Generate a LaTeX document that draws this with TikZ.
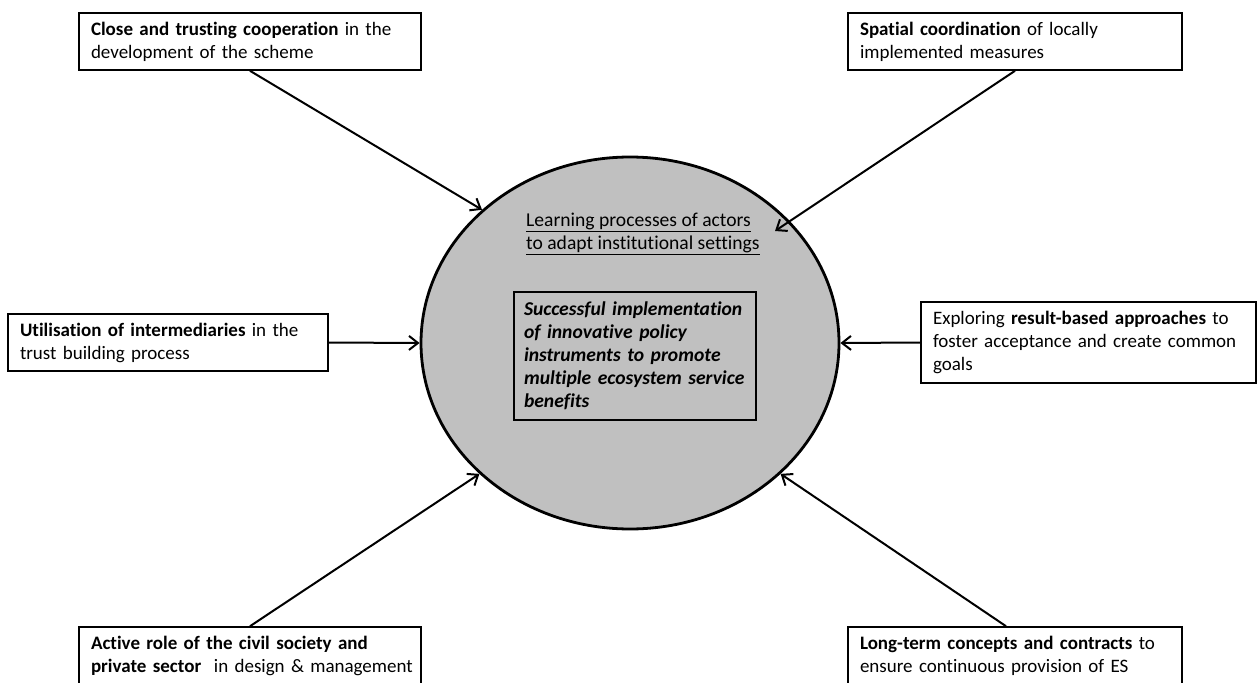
\documentclass[tikz,border=0pt]{standalone}
\usepackage{fontspec}
\setmainfont{Carlito}[Ligatures={NoCommon,NoRare}]
\usetikzlibrary{shapes.geometric,arrows.meta}
\hyphenpenalty=10000
\exhyphenpenalty=10000
\definecolor{ellgray}{RGB}{192,192,192}
\tikzset{
  box/.style={draw, line width=1.6pt, rectangle, inner xsep=12pt, inner ysep=0pt, align=left, font=\fontsize{19}{23}\selectfont},
  conn/.style={line width=2pt, -{Straight Barb[length=9pt,width=14pt,line width=2pt]}},
}
\begin{document}
\begin{tikzpicture}[x=1pt,y=-1pt]
\useasboundingbox (0,0) rectangle (1257,682);
\fill[white] (0,0) rectangle (1257,682);
\begin{scope}
\clip (0,0) rectangle (1257,682);
\node[ellipse, draw, line width=2.8pt, fill=ellgray, minimum width=418pt, minimum height=372pt] (c) at (630,343) {};
\node[box, minimum width=342pt, minimum height=57pt, text width=318pt] (tl) at (250,41.5) {\textbf{Close and trusting cooperation} in the\\development of the scheme};
\node[box, minimum width=334pt, minimum height=57pt, text width=310pt] (tr) at (1015,41.5) {\textbf{Spatial coordination} of locally\\implemented measures};
\node[box, minimum width=320pt, minimum height=57pt, text width=296pt] (ml) at (168,342.5) {\textbf{Utilisation of intermediaries} in the\\trust building process};
\node[box, minimum width=335pt, minimum height=81pt, text width=311pt] (mr) at (1088.5,342.5) {Exploring \textbf{result-based approaches} to\\foster acceptance and create common\\goals};
\node[box, minimum width=342pt, minimum height=57pt, text width=318pt] (bl) at (250,655.5) {\textbf{Active role of the civil society and}\\\mbox{\textbf{private sector}\ \ in design \& management}};
\node[box, minimum width=334pt, minimum height=57pt, text width=310pt] (br) at (1015,655.5) {\textbf{Long-term concepts and contracts} to\\ensure continuous provision of ES};
\node[anchor=north west, inner sep=0pt, align=left, font=\fontsize{19.6}{22.5}\selectfont] (learn) at (526,213) {\underline{Learning processes of actors}\\\underline{to adapt institutional settings}};
\node[draw, line width=1.3pt, minimum width=242pt, minimum height=128pt, text width=222pt, inner xsep=10pt, inner ysep=0pt, align=left, font=\fontsize{19.6}{23}\selectfont\bfseries\itshape] (goal) at (635,356) {Successful implementation\\of innovative policy\\instruments to promote\\multiple ecosystem service\\benefits};
\coordinate (trtip) at (775,231);
\draw[conn] (tl.south) -- (c.138.5);
\draw[conn] (tr.south) -- (trtip);
\draw[conn] (ml.east) -- (c.west);
\draw[conn] (mr.west) -- (c.east);
\draw[conn] (bl.north) -- (c.221.5);
\draw[conn] ([xshift=-9pt]br.north) -- (c.-41.7);
\end{scope}
\end{tikzpicture}
\end{document}
